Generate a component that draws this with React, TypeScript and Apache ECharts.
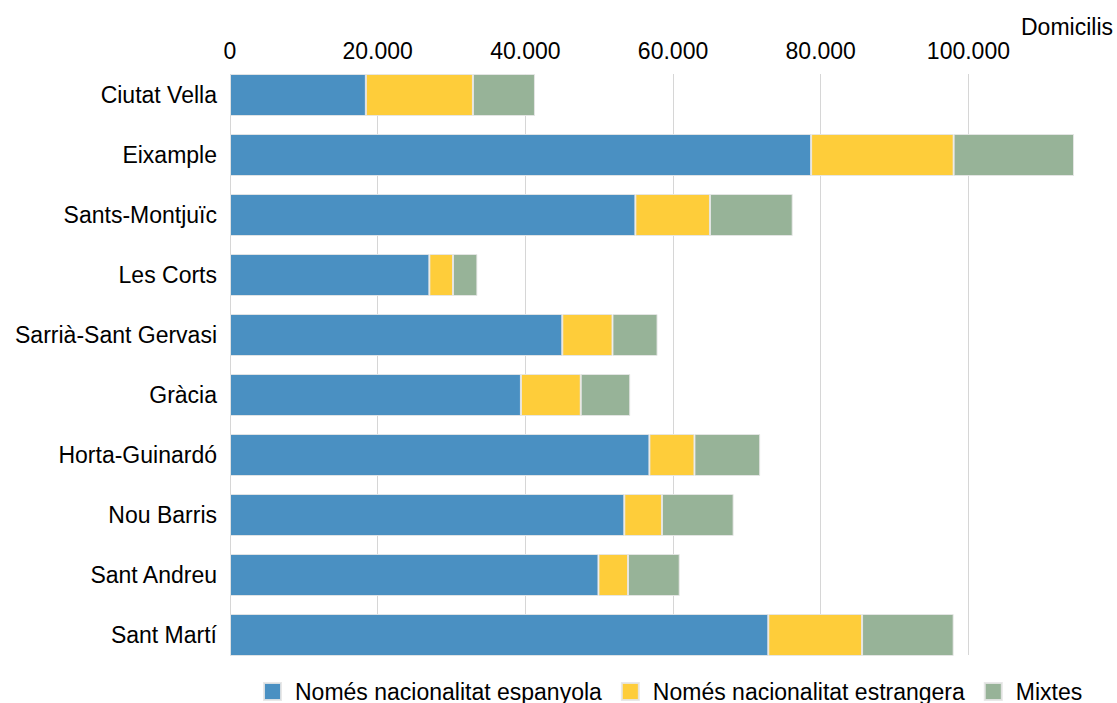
import React, { useEffect, useRef } from "react";
import * as echarts from "echarts";

const districtes = [
  "Ciutat Vella",
  "Eixample",
  "Sants-Montjuïc",
  "Les Corts",
  "Sarrià-Sant Gervasi",
  "Gràcia",
  "Horta-Guinardó",
  "Nou Barris",
  "Sant Andreu",
  "Sant Martí",
];
const nomesEspanyola = [18400, 78700, 54900, 27000, 45000, 39400, 56800, 53400, 49900, 72900];
const nomesEstrangera = [14500, 19300, 10100, 3200, 6800, 8100, 6100, 5100, 4000, 12700];
const mixtes = [8400, 16300, 11200, 3300, 6100, 6700, 8900, 9700, 7000, 12400];
const seriesNames = ["Només nacionalitat espanyola", "Només nacionalitat estrangera", "Mixtes"];
const axisTitle = "Domicilis";

const FONT = "'Liberation Sans', Arial, Helvetica, sans-serif";
const FS = 23;
const COLORS = ["#4a90c2", "#fecd3a", "#97b398"];

const fmt = (v: number) => String(Math.round(v)).replace(/\B(?=(\d{3})+(?!\d))/g, ".");

export default function App() {
  const ref = useRef<HTMLDivElement>(null);
  useEffect(() => {
    if (!ref.current) return;
    const chart = echarts.init(ref.current, undefined, { renderer: "svg" });
    const totals = nomesEspanyola.map((v, i) => v + nomesEstrangera[i] + mixtes[i]);
    const maxVal = Math.max(...totals);
    const values = [nomesEspanyola, nomesEstrangera, mixtes];
    chart.setOption({
      animation: false,
      textStyle: { fontFamily: FONT },
      title: {
        text: axisTitle,
        right: 4,
        top: 15,
        padding: 0,
        textStyle: { fontFamily: FONT, fontSize: FS, fontWeight: "normal", color: "#000" },
      },
      legend: {
        left: 263,
        top: 680,
        padding: 0,
        itemWidth: 17,
        itemHeight: 17,
        itemGap: 19,
        icon: "rect",
        data: seriesNames,
        textStyle: { fontFamily: FONT, fontSize: FS, color: "#000", padding: [0, 0, 0, 9] },
      },
      grid: [
        { left: 230, right: 43, top: 65, height: 600, containLabel: false },
        { left: 230, right: 43, top: 74, height: 581, containLabel: false },
      ],
      xAxis: [
        {
          type: "value",
          gridIndex: 0,
          position: "top",
          min: 0,
          max: maxVal,
          interval: 20000,
          axisLine: { show: false },
          axisTick: { show: false },
          splitLine: { show: false },
          axisLabel: {
            fontSize: FS,
            color: "#000",
            fontFamily: FONT,
            margin: 3,
            showMaxLabel: false,
            formatter: (v: number) => fmt(v),
          },
        },
        {
          type: "value",
          gridIndex: 1,
          position: "top",
          min: 0,
          max: maxVal,
          interval: 20000,
          axisLine: { show: false },
          axisTick: { show: false },
          axisLabel: { show: false },
          splitLine: { show: true, showMaxLine: false, lineStyle: { color: "#d6d6d6", width: 1 } },
        },
      ],
      yAxis: [
        {
          type: "category",
          gridIndex: 0,
          inverse: true,
          data: districtes,
          axisLine: { show: false },
          axisTick: { show: false },
          splitLine: { show: false },
          axisLabel: { fontSize: FS, color: "#000", fontFamily: FONT, margin: 13 },
        },
        {
          type: "value",
          gridIndex: 1,
          min: 0,
          max: 1,
          show: false,
        },
      ],
      series: [
        ...seriesNames.map((name, k) => ({
          name,
          type: "bar",
          stack: "total",
          xAxisIndex: 0,
          yAxisIndex: 0,
          barWidth: 42,
          data: values[k],
          itemStyle: { color: COLORS[k], borderColor: "rgba(230,230,230,0.9)", borderWidth: 1 },
          emphasis: { disabled: true },
        })),
        {
          name: "__grid",
          type: "line",
          xAxisIndex: 1,
          yAxisIndex: 1,
          data: [],
          silent: true,
        },
      ],
    });
    return () => chart.dispose();
  }, []);
  return (
    <div
      ref={ref}
      style={{ position: "absolute", left: 0, top: 0, width: 1117, height: 703, background: "#fff" }}
    />
  );
}
